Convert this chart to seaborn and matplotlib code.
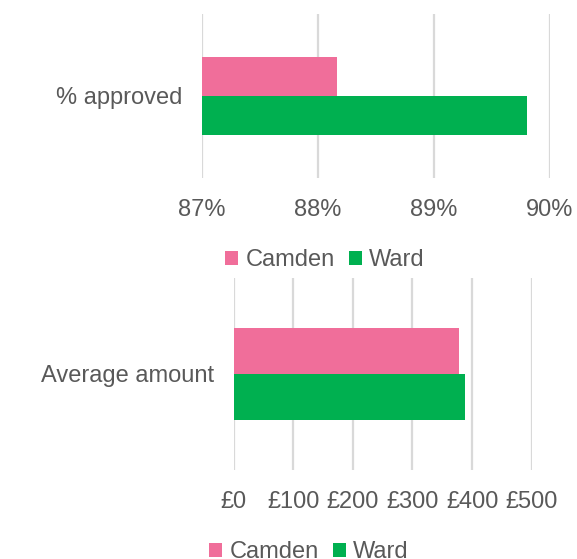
import matplotlib
matplotlib.use("Agg")
import matplotlib.pyplot as plt
import seaborn as sns
import pandas as pd
from matplotlib.ticker import FuncFormatter

areas = ["Camden", "Ward"]
pct_approved = [88.17, 89.80]
avg_amount = [378, 388]

colors = {"Camden": "#F06E9A", "Ward": "#00B050"}
text_col = "#595959"
grid_col = "#D9D9D9"

sns.set_style("white")
plt.rcParams["font.family"] = ["Liberation Sans", "DejaVu Sans"]
plt.rcParams["text.color"] = text_col

df_pct = pd.DataFrame({"metric": "% approved", "area": areas, "value": pct_approved})
df_amt = pd.DataFrame({"metric": "Average amount", "area": areas, "value": avg_amount})

fig = plt.figure(figsize=(5.77, 5.59), dpi=100)
ax1 = fig.add_axes([0.3496, 0.6816, 0.6031, 0.2934])
ax2 = fig.add_axes([0.4050, 0.1592, 0.5165, 0.3435])


def style(ax, lo, hi, step, fmt):
    ax.set_xlim(lo, hi)
    ax.set_ylim(0.5, -0.5)
    ax.set_xticks(range(lo, hi + 1, step))
    ax.xaxis.set_major_formatter(FuncFormatter(fmt))
    ax.grid(axis="x", color=grid_col, linewidth=1.6)
    ax.set_axisbelow(True)
    for s in ax.spines.values():
        s.set_visible(False)
    ax.tick_params(axis="both", length=0, labelsize=17, labelcolor=text_col)
    ax.tick_params(axis="x", pad=15)
    ax.tick_params(axis="y", pad=14)
    ax.set_xlabel("")
    ax.set_ylabel("")


sns.barplot(data=df_pct, x="value", y="metric", hue="area", palette=colors,
            orient="h", width=0.475, saturation=1, linewidth=0, ax=ax1)
# bars start at the axis minimum, not at zero
for p in ax1.patches:
    w = p.get_width()
    if w > 0:
        p.set_x(87)
        p.set_width(w - 87)
style(ax1, 87, 90, 1, lambda v, _: f"{v:.0f}%")

sns.barplot(data=df_amt, x="value", y="metric", hue="area", palette=colors,
            orient="h", width=0.475, saturation=1, linewidth=0, ax=ax2)
style(ax2, 0, 500, 100, lambda v, _: f"£{v:.0f}")

# the bottom legend sits partly below the figure edge, as in the source
for ax, anchor in [(ax1, (0.354, -0.304)), (ax2, (0.252, -0.261))]:
    sns.move_legend(ax, "upper center", bbox_to_anchor=anchor, ncol=2,
                    frameon=False, title=None, fontsize=17,
                    handlelength=0.55, handleheight=0.55,
                    handletextpad=0.3, columnspacing=0.6)
    for t in ax.get_legend().get_texts():
        t.set_color(text_col)

fig.savefig("out.png", dpi=100)
